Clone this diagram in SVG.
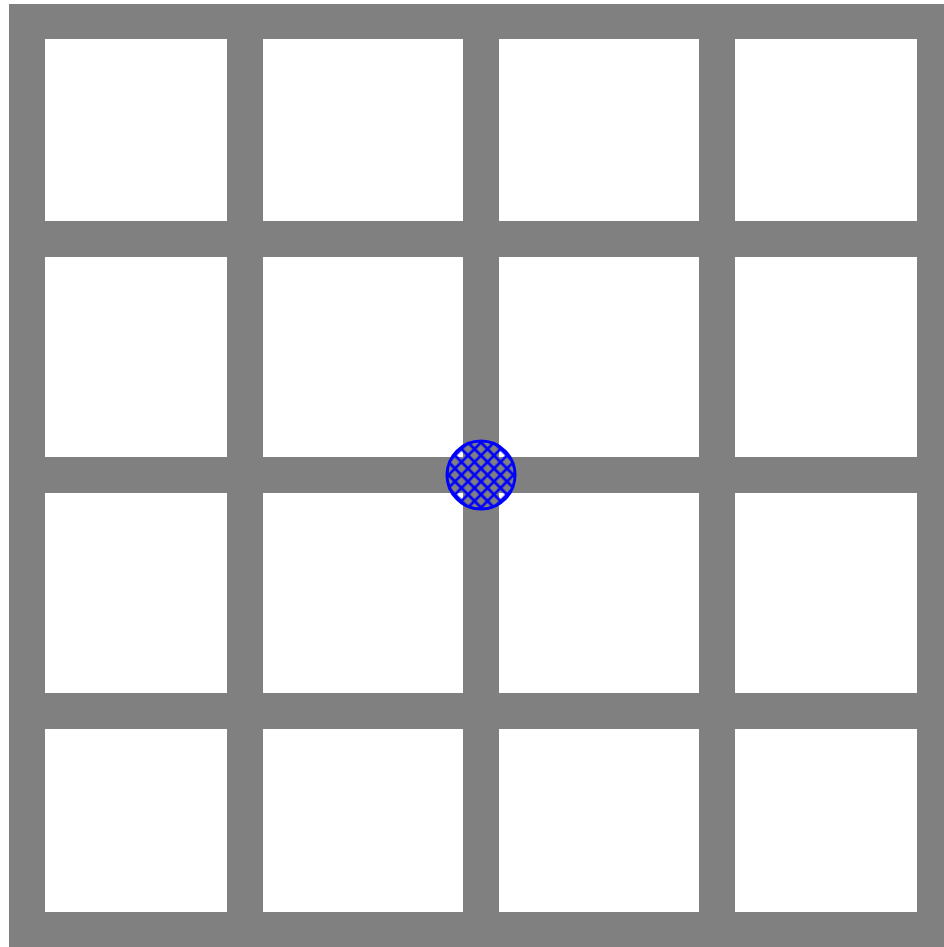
<svg xmlns="http://www.w3.org/2000/svg" width="944" height="947" viewBox="0 0 944 947">
<style>
.bar{fill:#808080}
.cell{fill:#ffffff}
</style>
<defs>
<pattern id="hatch" patternUnits="userSpaceOnUse" width="9.2" height="9.2" patternTransform="translate(481 475) rotate(45)">
<path d="M4.6 0V9.2M0 4.6H9.2" stroke="#0000ff" stroke-width="2.6" fill="none"/>
</pattern>
</defs>
<rect x="0" y="0" width="944" height="947" fill="#ffffff"/>
<g id="grid">
<rect class="bar" x="9" y="4" width="935" height="943"/>
<g id="cells">
<rect class="cell" x="45" y="39" width="182" height="182"/>
<rect class="cell" x="263" y="39" width="200" height="182"/>
<rect class="cell" x="499" y="39" width="200" height="182"/>
<rect class="cell" x="735" y="39" width="182" height="182"/>
<rect class="cell" x="45" y="257" width="182" height="200"/>
<rect class="cell" x="263" y="257" width="200" height="200"/>
<rect class="cell" x="499" y="257" width="200" height="200"/>
<rect class="cell" x="735" y="257" width="182" height="200"/>
<rect class="cell" x="45" y="493" width="182" height="200"/>
<rect class="cell" x="263" y="493" width="200" height="200"/>
<rect class="cell" x="499" y="493" width="200" height="200"/>
<rect class="cell" x="735" y="493" width="182" height="200"/>
<rect class="cell" x="45" y="729" width="182" height="183"/>
<rect class="cell" x="263" y="729" width="200" height="183"/>
<rect class="cell" x="499" y="729" width="200" height="183"/>
<rect class="cell" x="735" y="729" width="182" height="183"/>
</g>
</g>
<g id="marker">
<circle cx="481" cy="475" r="34" fill="url(#hatch)" stroke="#0000ff" stroke-width="3"/>
</g>
</svg>
